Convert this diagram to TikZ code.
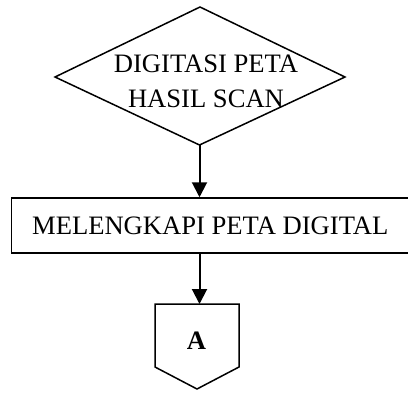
\documentclass[tikz,border=0pt]{standalone}
\usepackage{fontspec}
\setmainfont{Liberation Serif}
\usetikzlibrary{arrows.meta}
\begin{document}
\begin{tikzpicture}[x=1pt,y=-1pt,
  shapeline/.style={draw=black,line width=1.5pt,line join=miter},
  arr/.style={draw=black,line width=2pt,-{Triangle[length=15pt,width=15pt]}},
  lbl/.style={inner sep=0pt,font=\fontsize{26.6}{35.5}\selectfont,align=center}]
\useasboundingbox (0,0) rectangle (408,392);
% decision diamond
\coordinate (dtop) at (200,7);
\coordinate (dleft) at (55,77);
\coordinate (dright) at (345,77);
\coordinate (dbot) at (199.5,145);
\draw[shapeline] (dtop) -- (dright) -- (dbot) -- (dleft) -- cycle;
\node[lbl] (dtext) at (206,81.2) {DIGITASI PETA\\HASIL SCAN};
% process box
\node[shapeline,minimum width=397.5pt,minimum height=55pt,inner sep=0pt,
  font=\fontsize{26.6}{35.5}\selectfont] (proc) at (210.25,225.5) {MELENGKAPI PETA DIGITAL};
% off-page connector
\coordinate (otop) at (199.5,304);
\coordinate (otl) at (155,304);
\coordinate (otr) at (239,304);
\coordinate (obr) at (239,367);
\coordinate (otip) at (197,389);
\coordinate (obl) at (155,367);
\draw[shapeline] (otl) -- (otr) -- (obr) -- (otip) -- (obl) -- cycle;
\node[lbl,font=\fontsize{26.6}{35.5}\selectfont\bfseries] (atext) at (196.5,341) {A};
% connectors
\draw[arr] (dbot) -- (dbot |- proc.north);
\draw[arr] (proc.south -| otop) -- (otop);
\end{tikzpicture}
\end{document}
